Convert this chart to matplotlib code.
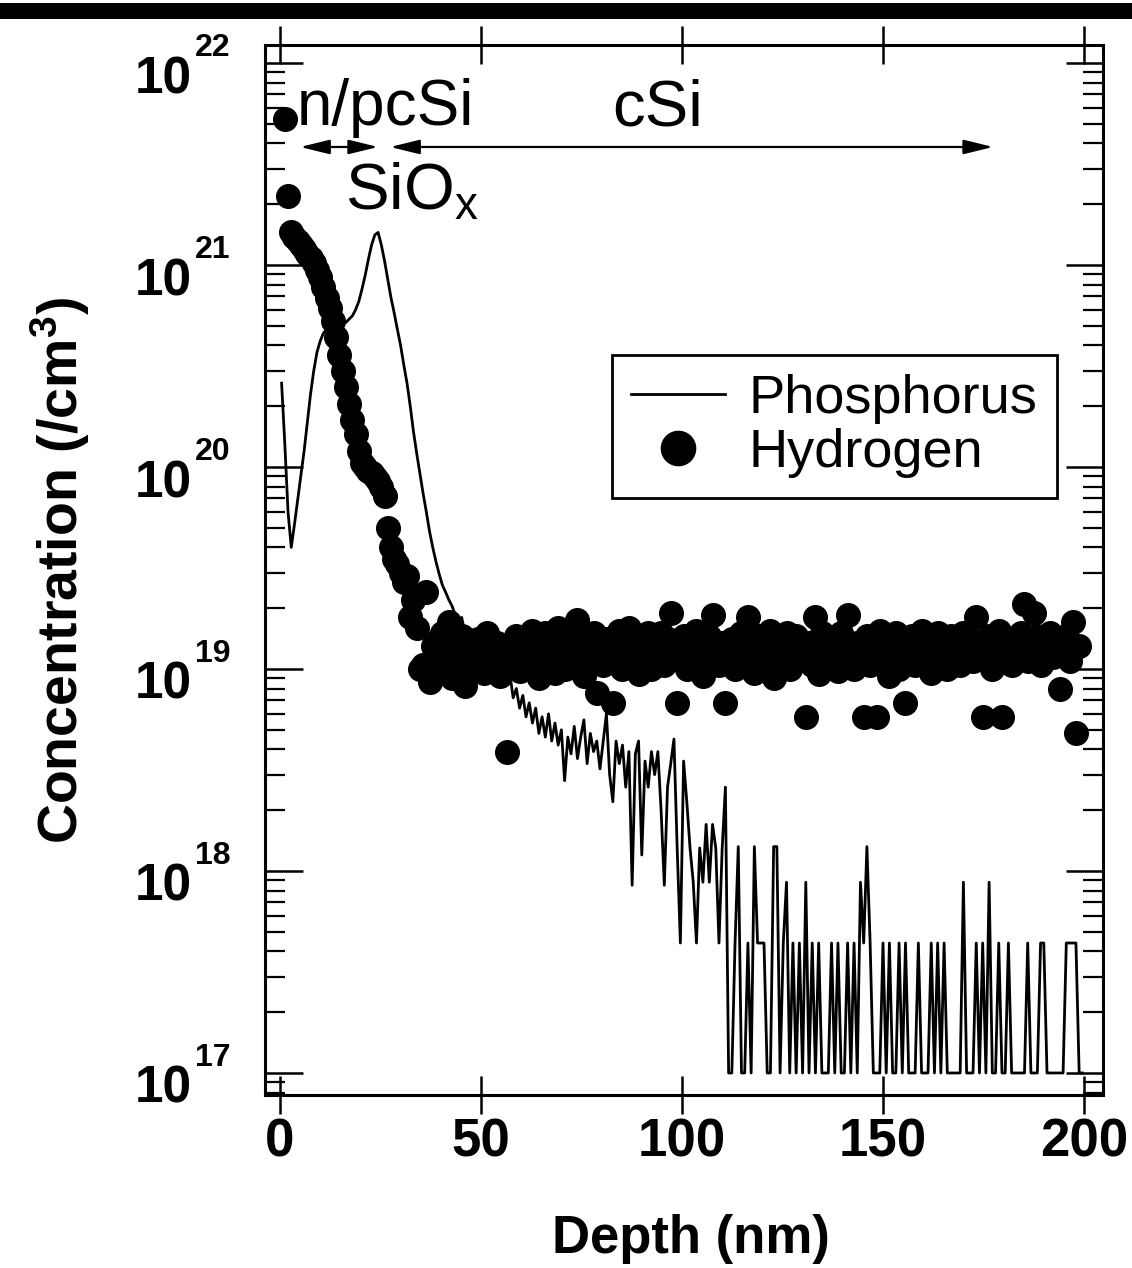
import numpy as np
import matplotlib
matplotlib.use("Agg")
import matplotlib.pyplot as plt
from matplotlib.ticker import FixedLocator, LogLocator, NullFormatter, NullLocator
from matplotlib.patches import Rectangle

plt.rcParams['font.family'] = ['Liberation Sans', 'DejaVu Sans']
plt.rcParams['mathtext.fontset'] = 'custom'
plt.rcParams['mathtext.rm'] = 'Liberation Sans'
plt.rcParams['mathtext.bf'] = 'Liberation Sans:bold'
plt.rcParams['mathtext.it'] = 'Liberation Sans:italic'

# SIMS depth grid (uniform sputter step, nm)
DEPTH_START = 0.4
DEPTH_STEP = 0.8

# Phosphorus concentration (/cm^3), one value per depth step
phosphorus = [
    2.6e20, 1.3e20, 6.0e19, 4.0e19, 5.2e19, 6.9e19, 9.1e19, 1.2e20, 1.66e20, 2.3e20,
    3.0e20, 3.7e20, 4.2e20, 4.6e20, 4.8e20, 5.0e20, 5.1e20, 5.1e20, 5.1e20, 5.1e20,
    5.2e20, 5.4e20, 5.6e20, 6.0e20, 6.6e20, 7.6e20, 8.9e20, 1.07e21, 1.26e21, 1.41e21,
    1.45e21, 1.26e21, 1.05e21, 8.5e20, 6.9e20, 5.8e20, 4.8e20, 4.0e20, 3.2e20, 2.6e20,
    2.0e20, 1.5e20, 1.17e20, 9.3e19, 7.4e19, 6.0e19, 4.8e19, 4.0e19, 3.4e19, 2.95e19,
    2.6e19, 2.4e19, 2.2e19, 2.05e19, 1.85e19, 1.65e19, 1.8e19, 1.5e19, 1.6e19, 1.35e19,
    1.4e19, 1.25e19, 1.3e19, 1.15e19, 1.2e19, 1.05e19, 1.1e19, 9.5e18, 1.0e19, 8.8e18,
    8.4e18, 9.4e18, 7.2e18, 8.0e18, 6.4e18, 7.4e18, 5.8e18, 6.8e18, 5.4e18, 6.4e18,
    4.8e18, 5.8e18, 4.6e18, 6.0e18, 4.4e18, 5.4e18, 4.2e18, 5.0e18, 2.8e18, 4.6e18,
    3.8e18, 5.2e18, 3.6e18, 4.6e18, 5.6e18, 3.4e18, 4.8e18, 3.9e18, 4.4e18, 3.2e18,
    4.4e18, 6.0e18, 3.0e18, 2.2e18, 4.4e18, 3.4e18, 4.2e18, 2.6e18, 3.9e18, 8.5e17,
    3.8e18, 4.4e18, 1.2e18, 3.5e18, 2.6e18, 3.9e18, 3.0e18, 3.9e18, 2.0e18, 8.5e17,
    2.6e18, 3.4e18, 4.5e18, 1.3e18, 4.4e17, 3.5e18, 2.2e18, 1.3e18, 8.8e17, 4.4e17,
    1.3e18, 8.8e17, 1.7e18, 8.8e17, 1.7e18, 1.3e18, 4.4e17, 1.3e18, 2.6e18, 1e17,
    1e17, 4.4e17, 1.32e18, 1e17, 1e17, 4.4e17, 1e17, 1.32e18, 4.4e17, 4.4e17,
    4.4e17, 1e17, 1e17, 1.32e18, 1.32e18, 1e17, 4.4e17, 8.8e17, 1e17, 4.4e17,
    1e17, 4.4e17, 1e17, 8.8e17, 1e17, 4.4e17, 1e17, 4.4e17, 1e17, 1e17,
    1e17, 4.4e17, 1e17, 4.4e17, 1e17, 1e17, 4.4e17, 1e17, 4.4e17, 1e17,
    8.8e17, 4.4e17, 1.32e18, 4.4e17, 1e17, 1e17, 1e17, 4.4e17, 1e17, 4.4e17,
    1e17, 1e17, 4.4e17, 1e17, 4.4e17, 1e17, 1e17, 1e17, 4.4e17, 1e17,
    1e17, 1e17, 4.4e17, 1e17, 4.4e17, 1e17, 4.4e17, 1e17, 1e17, 1e17,
    1e17, 1e17, 8.8e17, 1e17, 1e17, 1e17, 4.4e17, 1e17, 4.4e17, 1e17,
    8.8e17, 1e17, 1e17, 4.4e17, 1e17, 1e17, 4.4e17, 1e17, 1e17, 1e17,
    1e17, 1e17, 4.4e17, 1e17, 1e17, 1e17, 4.4e17, 4.4e17, 1e17, 1e17,
    1e17, 1e17, 1e17, 1e17, 4.4e17, 4.4e17, 4.4e17, 4.4e17, 1e17, 1e17,
]

# Hydrogen concentration (/cm^3), same depth grid (nan = no point)
hydrogen = [
    np.nan, 5.3e21, 2.2e21, 1.45e21, 1.38e21, 1.32e21, 1.26e21, 1.2e21, 1.14e21, 1.08e21,
    1.02e21, 9.5e20, 8.7e20, 7.8e20, 6.9e20, 6.1e20, 5.3e20, 4.4e20, 3.6e20, 3.0e20,
    2.5e20, 2.05e20, 1.7e20, 1.45e20, 1.2e20, 1.05e20, 1.0e20, 9.6e19, 9.3e19, 8.9e19,
    8.5e19, 8.0e19, 7.2e19, 5.0e19, 4.0e19, 3.5e19, 3.3e19, 3.0e19, 2.7e19, 2.9e19,
    1.8e19, 2.2e19, 1.6e19, 1.0e19, 1.05e19, 2.4e19, 8.6e18, 1.3e19, 9.5e18, 1.4e19,
    1.5e19, 1.1e19, 1.7e19, 9.0e18, 1.3e19, 1.05e19, 1.45e19, 8.2e18, 1.2e19, 1.35e19,
    1.0e19, 1.4e19, 1.15e19, 9.5e18, 1.5e19, 1.25e19, 1.05e19, 1.35e19, 9.2e18, 1.2e19,
    3.9e18, 1.3e19, 1.1e19, 1.45e19, 9.8e18, 1.25e19, 1.4e19, 1.05e19, 1.55e19, 1.15e19,
    9.0e18, 1.3e19, 1.5e19, 1.1e19, 1.35e19, 9.5e18, 1.6e19, 1.2e19, 1.0e19, 1.4e19,
    1.25e19, 1.1e19, 1.75e19, 1.3e19, 9.2e18, 1.45e19, 1.15e19, 1.5e19, 7.6e18, 1.3e19,
    1.05e19, 1.4e19, 1.2e19, 6.8e18, 1.35e19, 1.55e19, 1.0e19, 1.25e19, 1.6e19, 1.1e19,
    1.3e19, 9.4e18, 1.45e19, 1.15e19, 1.5e19, 1.0e19, 1.35e19, 1.2e19, 1.5e19, 1.05e19,
    1.4e19, 1.9e19, 1.25e19, 6.8e18, 1.15e19, 1.45e19, 1.0e19, 1.35e19, 1.2e19, 1.55e19,
    1.1e19, 9.2e18, 1.3e19, 1.45e19, 1.85e19, 1.2e19, 1.05e19, 1.35e19, 6.8e18, 1.15e19,
    1.4e19, 1.0e19, 1.25e19, 1.5e19, 1.1e19, 1.8e19, 1.3e19, 9.6e18, 1.45e19, 1.2e19,
    1.05e19, 1.35e19, 1.55e19, 9.0e18, 1.25e19, 1.4e19, 1.1e19, 1.5e19, 1.0e19, 1.3e19,
    1.45e19, 1.15e19, 1.3e19, 5.8e18, 1.35e19, 1.05e19, 1.8e19, 9.4e18, 1.5e19, 1.2e19,
    1.1e19, 1.4e19, 1.25e19, 9.8e18, 1.5e19, 1.15e19, 1.85e19, 1.3e19, 1.0e19, 1.35e19,
    1.2e19, 5.8e18, 1.45e19, 1.05e19, 1.3e19, 5.8e18, 1.55e19, 1.1e19, 1.4e19, 9.2e18,
    1.25e19, 1.5e19, 1.0e19, 1.35e19, 6.8e18, 1.15e19, 1.45e19, 1.05e19, 1.3e19, 1.55e19,
    1.1e19, 1.4e19, 9.5e18, 1.25e19, 1.5e19, 1.15e19, 1.35e19, 1.0e19, 1.45e19, 1.2e19,
    1.3e19, 1.05e19, 1.5e19, 1.2e19, 1.4e19, 1.1e19, 1.8e19, 1.35e19, 5.8e18, 1.25e19,
    1.45e19, 1.0e19, 1.3e19, 1.55e19, 5.8e18, 1.15e19, 1.4e19, 1.05e19, 1.35e19, 1.2e19,
    1.5e19, 2.1e19, 1.1e19, 1.3e19, 1.9e19, 1.45e19, 1.05e19, 1.35e19, 1.2e19, 1.5e19,
    1.15e19, 1.4e19, 8.0e18, 1.25e19, 1.45e19, 1.1e19, 1.7e19, 4.8e18, 1.3e19, np.nan,
]

x_ticks = [0, 50, 100, 150, 200]
y_tick_exponents = [17, 18, 19, 20, 21, 22]

# layer boundaries used for the annotation arrows (nm) and their height
poly_arrow = (5.0, 24.4)
csi_arrow = (27.4, 177.4)
arrow_y = 3.84e21

depth = DEPTH_START + DEPTH_STEP * np.arange(len(phosphorus))

W, H = 1132, 1268
fig = plt.figure(figsize=(W / 100, H / 100), dpi=100)
fig.add_artist(Rectangle((0, 1 - 19 / H), 1, 16 / H, transform=fig.transFigure,
                         facecolor='black', edgecolor='none'))
ax = fig.add_axes([265 / W, 1 - 1095 / H, (1103 - 265) / W, (1095 - 45) / H])

ax.plot(depth, phosphorus, color='black', lw=2.0, label='Phosphorus', zorder=2)
ax.plot(depth, hydrogen, linestyle='none', marker='o', ms=17, mfc='black',
        mec='black', label='Hydrogen', zorder=3)

ax.set_yscale('log')
ax.set_xlim(-3.73, 204.73)
ax.set_ylim(7.78e16, 1.228e22)

for s in ax.spines.values():
    s.set_linewidth(2.2)

ax.xaxis.set_major_locator(FixedLocator(x_ticks))
ax.xaxis.set_minor_locator(NullLocator())
ax.set_xticklabels([str(t) for t in x_ticks], fontsize=38, fontweight='bold')
ax.tick_params(axis='x', which='major', direction='inout', length=28, width=1.8,
               top=True, bottom=True, pad=2)

y_ticks = [10.0 ** e for e in y_tick_exponents]
ax.yaxis.set_major_locator(FixedLocator(y_ticks))
ax.yaxis.set_minor_locator(LogLocator(base=10, subs=np.arange(2, 10), numticks=50))
ax.yaxis.set_minor_formatter(NullFormatter())
ax.tick_params(axis='y', which='major', direction='in', length=27, width=1.8,
               left=True, right=True, labelleft=False)
ax.tick_params(axis='y', which='minor', direction='in', length=14.5, width=1.6,
               left=True, right=True)

# power-of-ten labels: large "10" with a raised exponent
for e, t in zip(y_tick_exponents, y_ticks):
    ax.annotate('10', xy=(0, t), xycoords=('axes fraction', 'data'),
                xytext=(-73, -30), textcoords='offset pixels', ha='right',
                va='baseline', fontsize=37, fontweight='bold', annotation_clip=False)
    ax.annotate(str(e), xy=(0, t), xycoords=('axes fraction', 'data'),
                xytext=(-70, 7), textcoords='offset pixels', ha='left',
                va='baseline', fontsize=23, fontweight='bold', annotation_clip=False)

ax.set_xlabel('Depth (nm)', fontsize=38, fontweight='bold')
ax.xaxis.set_label_coords(0.508, -0.113)
ax.set_ylabel(r'Concentration (/cm$^{\mathbf{3}}$)', fontsize=40, fontweight='bold')
ax.yaxis.set_label_coords(-0.206, 0.5)

arrow_kw = dict(arrowstyle='<|-|>,head_length=0.9,head_width=0.22', color='black',
                lw=1.6, shrinkA=0, shrinkB=0, mutation_scale=20)
ax.annotate('', xy=(poly_arrow[1], arrow_y), xytext=(poly_arrow[0], arrow_y), arrowprops=arrow_kw)
ax.annotate('', xy=(csi_arrow[1], arrow_y), xytext=(csi_arrow[0], arrow_y), arrowprops=arrow_kw)

ax.text(4.2, 4.93e21, 'n/pcSi', fontsize=46, ha='left', va='baseline')
ax.text(82.6, 4.93e21, 'cSi', fontsize=47, ha='left', va='baseline')
ax.text(16.2, 1.87e21, r'SiO$_{\mathrm{x}}$', fontsize=47, ha='left', va='baseline')

leg = ax.legend(loc='upper left', bbox_to_anchor=(0.414, 0.705), fontsize=39,
                frameon=True, fancybox=False, edgecolor='black', framealpha=1,
                borderpad=0.36, handlelength=1.72, handletextpad=0.45,
                labelspacing=0.07, markerscale=1.45, borderaxespad=0)
leg.get_frame().set_linewidth(2)

fig.savefig('out.png', dpi=100)
